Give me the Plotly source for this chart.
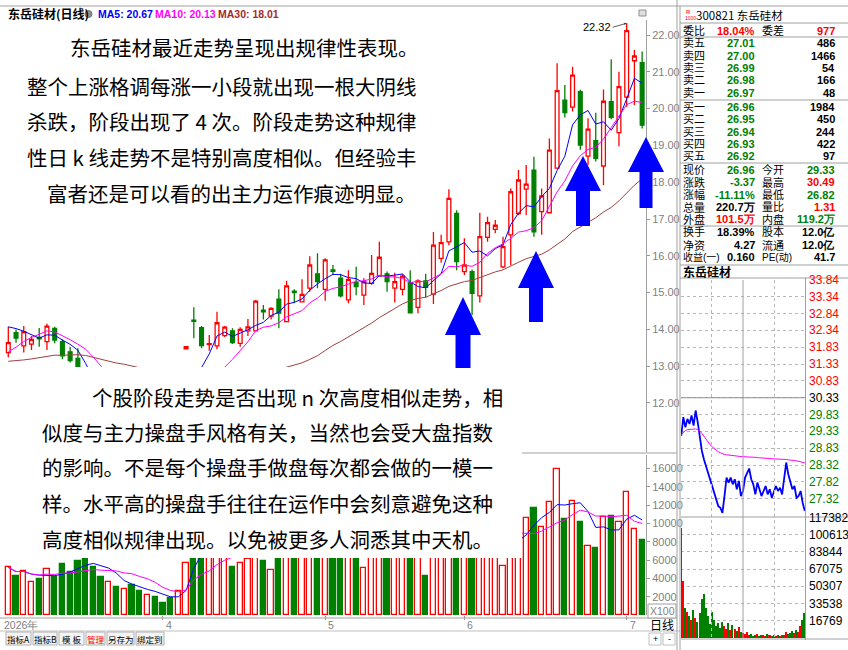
import plotly.graph_objects as go
import pandas as pd

W, H = 848, 650
def px(x): return x / W
def py(y): return 1 - y / H

# ---------------- daily data (index = trading day) ----------------
opens = [13.37, 13.91, 13.55, 13.60, 13.78, 13.67, 14.03, 13.67, 13.39, 13.21,
         12.90, 12.25, 11.65, 11.50, 11.70, 11.55, 11.65, 11.60, 11.55, 11.55,
         11.60, 11.85, 11.60, 13.47, 14.25, 14.05, 13.59, 13.55, 13.83, 13.96,
         13.62, 13.96, 13.96, 14.52, 14.36, 14.82, 14.21, 15.04, 14.75, 15.12,
         15.51, 15.09, 15.62, 15.39, 14.80, 15.27, 14.93, 15.25, 15.45, 15.51,
         15.12, 15.09, 15.27, 14.60, 15.32, 14.96, 15.93, 16.38, 17.15, 15.57,
         15.57, 14.91, 16.50, 16.72, 15.70, 16.57, 17.15, 17.81, 18.33, 17.20,
         17.17, 18.38, 20.23, 20.04, 20.46, 18.71, 19.13, 18.44, 20.19, 19.35,
         20.31, 21.30, 21.25]
highs = [14.07, 14.00, 14.09, 13.82, 14.04, 14.15, 14.07, 13.73, 13.53, 13.49,
         12.95, 12.40, 11.90, 11.80, 11.85, 11.75, 11.80, 11.70, 11.70, 11.65,
         11.65, 11.95, 11.90, 13.53, 14.60, 14.09, 13.85, 14.48, 14.09, 14.03,
         14.06, 14.28, 14.80, 14.66, 14.60, 15.09, 15.32, 15.09, 15.36, 15.99,
         16.07, 15.93, 15.75, 15.51, 15.61, 15.70, 15.39, 16.02, 16.38, 15.57,
         15.54, 15.51, 15.61, 15.36, 15.51, 16.65, 16.57, 17.81, 17.24, 16.48,
         15.63, 17.17, 17.06, 16.97, 16.52, 17.83, 18.33, 18.47, 18.69, 17.83,
         19.19, 21.23, 20.64, 21.14, 20.51, 19.74, 19.89, 20.52, 21.34, 21.00,
         22.32, 21.59, 21.55]
lows = [13.24, 13.64, 13.37, 13.44, 13.53, 13.44, 13.62, 13.19, 13.10, 12.92,
        12.20, 11.50, 11.30, 11.35, 11.40, 11.40, 11.50, 11.45, 11.45, 11.40,
        11.45, 11.60, 11.50, 13.47, 13.76, 13.49, 13.42, 13.46, 13.79, 13.60,
        13.53, 13.82, 13.94, 14.27, 14.27, 14.03, 14.21, 14.71, 14.73, 15.02,
        15.12, 14.78, 15.48, 14.87, 14.71, 14.93, 14.66, 15.21, 15.43, 15.02,
        14.73, 14.93, 14.44, 14.44, 14.87, 14.69, 15.81, 16.29, 15.61, 15.48,
        14.39, 14.73, 16.38, 16.61, 15.66, 15.75, 17.11, 17.11, 16.52, 16.57,
        17.15, 18.38, 19.76, 19.92, 18.88, 18.47, 18.56, 17.92, 19.71, 18.98,
        20.05, 20.10, 19.46]
closes = [13.64, 13.76, 13.94, 13.73, 13.74, 14.09, 13.71, 13.28, 13.15, 12.94,
          12.30, 11.60, 11.45, 11.70, 11.55, 11.65, 11.60, 11.55, 11.55, 11.50,
          11.57, 11.75, 11.75, 13.53, 14.22, 13.56, 13.61, 14.18, 14.06, 13.64,
          14.00, 14.07, 14.77, 14.48, 14.57, 14.44, 15.18, 15.00, 14.95, 15.75,
          15.30, 15.89, 15.58, 14.91, 15.36, 15.16, 15.30, 15.52, 15.96, 15.30,
          15.30, 15.45, 14.45, 15.32, 15.14, 16.29, 16.36, 17.56, 15.84, 15.75,
          14.98, 16.52, 16.90, 16.83, 16.25, 17.74, 18.06, 17.95, 16.65, 17.63,
          18.87, 20.49, 19.89, 20.91, 19.01, 19.44, 18.65, 20.20, 19.76, 20.60,
          22.12, 21.43, 19.55]
# closes before the visible window (only used for the moving averages)
prior_closes = [13.4, 13.2, 12.9, 12.6, 12.8, 13.1, 13.3, 13.0, 12.7, 12.9,
                13.2, 13.4, 13.1, 12.8, 12.6, 12.9, 13.0, 13.2, 13.1, 12.9,
                12.5, 12.4, 12.6, 12.9, 13.15, 14.0, 14.3, 14.25, 14.16]
volumes = [5200, 4300, 4800, 3600, 3900, 5000, 4200, 5600, 4700, 5900,
           6800, 5200, 4100, 3600, 3100, 2800, 3300, 2600, 2200, 2000,
           1300, 1825, 2623, 5650, 14000, 9000, 7000, 9500, 7000, 5280,
           5650, 6120, 11000, 5900, 4920, 9000, 12000, 7500, 7000, 11000,
           9000, 10000, 6500, 7500, 8000, 6500, 5100, 7000, 10000, 7000,
           6500, 6800, 8000, 7000, 4300, 10000, 7500, 11000, 12000, 7000,
           8000, 11000, 7500, 6500, 5390, 9500, 11700, 10640, 11730, 9650,
           12320, 15960, 10460, 12460, 10130, 7540, 7290, 10740, 10820, 10130,
           13410, 9400, 8200]
month_starts = [20, 41, 59, 80]
month_labels = ["4", "5", "6", "7"]
price_ticks = [12, 13, 14, 15, 16, 17, 18, 19, 20, 21, 22]
vol_ticks = [2000, 4000, 6000, 8000, 10000, 12000, 14000, 16000]

# ---------------- intraday data (minute index) ----------------
minutes = list(range(0, 241, 4))
intraday_price = [29.20, 29.75, 29.45, 29.70, 29.55, 29.80, 29.50, 29.95, 29.60, 29.20,
                  28.75, 28.50, 28.30, 28.05, 27.90, 27.70, 27.45, 27.30, 27.10, 27.05,
                  26.90, 27.40, 27.95, 27.80, 27.95, 27.75, 27.90, 27.60, 27.85, 27.40,
                  27.55, 27.95, 28.10, 28.22, 27.90, 27.75, 27.45, 27.80, 27.60, 27.40,
                  27.55, 27.70, 27.45, 27.60, 27.35, 27.50, 27.70, 27.55, 27.65, 27.45,
                  27.90, 28.40, 28.05, 27.85, 27.60, 27.70, 27.35, 27.40, 27.55, 27.20,
                  26.96]
intraday_avg = [29.23, 29.30, 29.35, 29.38, 29.39, 29.40, 29.40, 29.40, 29.38, 29.34,
                29.27, 29.18, 29.08, 29.00, 28.93, 28.87, 28.81, 28.76, 28.72, 28.69,
                28.66, 28.64, 28.63, 28.62, 28.61, 28.60, 28.60, 28.59, 28.58, 28.57,
                28.57, 28.57, 28.57, 28.57, 28.56, 28.56, 28.55, 28.55, 28.54, 28.54,
                28.53, 28.53, 28.52, 28.52, 28.51, 28.51, 28.50, 28.50, 28.49, 28.49,
                28.49, 28.49, 28.48, 28.48, 28.47, 28.46, 28.45, 28.44, 28.43, 28.41,
                28.39]
intraday_vol = [108000, 56000, 30000, 26000, 22000, 18000, 28000, 20000, 16000, 25000,
                38000, 43000, 30000, 22000, 14000, 26000, 18000, 12000, 15000, 10000,
                16000, 12000, 9000, 15000, 8000, 13000, 9000, 7000, 11000, 6000,
                5000, 4000, 6000, 3000, 4000, 2500, 3000, 4500, 2000, 3500,
                3000, 2500, 4000, 3000, 2000, 3500, 2500, 3000, 2000, 3000,
                3500, 6000, 4000, 5000, 7000, 5500, 8000, 6000, 12000, 18000,
                25000]
prev_close = 30.33
intraday_price_labels = ["33.84", "33.34", "32.84", "32.34", "31.83", "31.33", "30.83",
                         "30.33", "29.83", "29.33", "28.83", "28.32", "27.82", "27.32"]
intraday_vol_labels = [117382, 100613, 83844, 67075, 50307, 33538, 16769]

# ---------------- quote panel texts ----------------
book_rows = [("卖五", "27.01", "486"), ("卖四", "27.00", "1466"), ("卖三", "26.99", "54"),
             ("卖二", "26.98", "166"), ("卖一", "26.97", "48"),
             ("买一", "26.96", "1984"), ("买二", "26.95", "450"), ("买三", "26.94", "244"),
             ("买四", "26.93", "422"), ("买五", "26.92", "97")]
quote_rows = [("现价", "26.96", "#008000", "今开", "29.33", "#008000"),
              ("涨跌", "-3.37", "#008000", "最高", "30.49", "#FF0000"),
              ("涨幅", "-11.11%", "#008000", "最低", "26.82", "#008000"),
              ("总量", "220.7万", "#000000", "量比", "1.31", "#FF0000"),
              ("外盘", "101.5万", "#FF0000", "内盘", "119.2万", "#008000"),
              ("换手", "18.39%", "#000000", "股本", "12.0亿", "#000000"),
              ("净资", "4.27", "#000000", "流通", "12.0亿", "#000000"),
              ("收益(一)", "0.160", "#000000", "PE(动)", "41.7", "#000000")]

text_top = ["东岳硅材最近走势呈现出规律性表现。",
            "整个上涨格调每涨一小段就出现一根大阴线",
            "杀跌，阶段出现了 4 次。阶段走势这种规律",
            "性日 k 线走势不是特别高度相似。但经验丰",
            "富者还是可以看的出主力运作痕迹明显。"]
text_bottom = ["个股阶段走势是否出现 n 次高度相似走势，相",
               "似度与主力操盘手风格有关，当然也会受大盘指数",
               "的影响。不是每个操盘手做盘每次都会做的一模一",
               "样。水平高的操盘手往往在运作中会刻意避免这种",
               "高度相似规律出现。以免被更多人洞悉其中天机。"]

# ---------------- derived series ----------------
idx = list(range(len(closes)))
all_c = pd.Series(prior_closes + closes, dtype=float)
n0 = len(prior_closes)
ma5 = all_c.rolling(5).mean().iloc[n0:].tolist()
ma10 = all_c.rolling(10).mean().iloc[n0:].tolist()
ma30 = all_c.rolling(30).mean().iloc[n0:].tolist()
vs = pd.Series(volumes, dtype=float)
mav5 = vs.rolling(5, min_periods=1).mean().tolist()
mav10 = vs.rolling(10, min_periods=1).mean().tolist()
up = [c >= o for o, c in zip(opens, closes)]
vol_fill = ["#FFFFFF" if u else "#008000" for u in up]
vol_line = ["#FF0000" if u else "#008000" for u in up]

iv_col = []
for k, p in enumerate(intraday_price):
    prev = intraday_price[k - 1] if k > 0 else prev_close
    iv_col.append("#FF0000" if p >= prev else "#008000")

RED, GREEN, BLUE, MAG, BROWN = "#FF0000", "#008000", "#0000FF", "#FF00FF", "#A04040"
GRAYTXT = "#7F7F7F"
NUMFONT = "Liberation Sans, Arial, sans-serif"
CJK = "Noto Sans CJK SC, sans-serif"
CJK_TIGHT = "Liberation Sans, Noto Sans CJK SC, sans-serif"

fig = go.Figure()

# main candles
fig.add_trace(go.Candlestick(
    x=idx, open=opens, high=highs, low=lows, close=closes,
    increasing=dict(line=dict(color=RED, width=1.3), fillcolor="#FFFFFF"),
    decreasing=dict(line=dict(color=GREEN, width=1.3), fillcolor=GREEN),
    whiskerwidth=0, hoverinfo="skip", showlegend=False, xaxis="x", yaxis="y"))
for s, c in [(ma5, BLUE), (ma10, MAG), (ma30, BROWN)]:
    fig.add_trace(go.Scatter(x=idx, y=s, mode="lines", line=dict(color=c, width=1),
                             hoverinfo="skip", showlegend=False, xaxis="x", yaxis="y"))

# volume
fig.add_trace(go.Bar(x=idx, y=volumes, width=0.68,
                     marker=dict(color=vol_fill, line=dict(color=vol_line, width=1.3)),
                     hoverinfo="skip", showlegend=False, xaxis="x2", yaxis="y2"))
for s, c in [(mav5, BLUE), (mav10, MAG)]:
    fig.add_trace(go.Scatter(x=idx, y=s, mode="lines", line=dict(color=c, width=1),
                             hoverinfo="skip", showlegend=False, xaxis="x2", yaxis="y2"))

# intraday
fig.add_trace(go.Scatter(x=minutes, y=intraday_price, mode="lines", line=dict(color=BLUE, width=1.8),
                         hoverinfo="skip", showlegend=False, xaxis="x3", yaxis="y3"))
fig.add_trace(go.Scatter(x=minutes, y=intraday_avg, mode="lines", line=dict(color=MAG, width=1),
                         hoverinfo="skip", showlegend=False, xaxis="x3", yaxis="y3"))
fig.add_trace(go.Bar(x=minutes, y=intraday_vol, width=3, marker=dict(color=iv_col, line=dict(width=0)),
                     hoverinfo="skip", showlegend=False, xaxis="x4", yaxis="y4"))

xr = [-1.074, 82.5]
ip_lo, ip_hi = 26.82, 33.84
fig.update_layout(
    width=W, height=H, margin=dict(l=0, r=0, t=0, b=0),
    paper_bgcolor="white", plot_bgcolor="white", showlegend=False, boxgap=0.3, bargap=0,
    xaxis=dict(domain=[0, px(646)], range=xr, visible=False, rangeslider=dict(visible=False)),
    yaxis=dict(domain=[py(452), py(20)], range=[10.668, 22.408], side="right", anchor="x",
               tickvals=price_ticks, ticktext=["%.2f" % v for v in price_ticks],
               ticks="outside", ticklen=3, tickcolor="#999999", showline=True, linecolor="#A0A0A0",
               showgrid=False, zeroline=False, tickfont=dict(family=NUMFONT, size=11, color=GRAYTXT)),
    xaxis2=dict(domain=[0, px(646)], range=xr, anchor="y2", tickvals=month_starts, ticktext=["" for _ in month_starts],
                ticks="outside", ticklen=4, tickcolor="#999999", showline=False, showgrid=False, zeroline=False,
                rangeslider=dict(visible=False)),
    yaxis2=dict(domain=[py(615), py(455)], range=[0, 17490], side="right", anchor="x2",
                tickvals=vol_ticks, ticktext=[str(v) for v in vol_ticks], ticks="outside", ticklen=3,
                tickcolor="#999999", showline=True, linecolor="#A0A0A0", showgrid=False, zeroline=False,
                tickfont=dict(family=NUMFONT, size=11, color=GRAYTXT)),
    xaxis3=dict(domain=[px(681), px(805)], range=[-0.5, 240.5], anchor="y3", visible=False),
    yaxis3=dict(domain=[py(515.5), py(280)], range=[ip_lo, ip_hi], anchor="x3",
                tickvals=[float(v) for v in intraday_price_labels], showticklabels=False, ticks="",
                showgrid=True, gridcolor="#B8B8B8", griddash="dot", gridwidth=1, zeroline=False, showline=False),
    xaxis4=dict(domain=[px(681), px(805)], range=[-0.5, 240.5], anchor="y4", visible=False),
    yaxis4=dict(domain=[py(638), py(517.5)], range=[0, 117382], anchor="x4",
                tickvals=intraday_vol_labels, showticklabels=False, ticks="",
                showgrid=True, gridcolor="#B8B8B8", griddash="dot", gridwidth=1, zeroline=False, showline=False),
)

shapes = []
ann = []

def hline(x0, x1, y, color="#A0A0A0", width=1, dash=None):
    shapes.append(dict(type="line", xref="paper", yref="paper", x0=px(x0), x1=px(x1), y0=py(y), y1=py(y),
                       line=dict(color=color, width=width, dash=dash), layer="above"))

def vline(x, y0, y1, color="#A0A0A0", width=1, dash=None):
    shapes.append(dict(type="line", xref="paper", yref="paper", x0=px(x), x1=px(x), y0=py(y0), y1=py(y1),
                       line=dict(color=color, width=width, dash=dash), layer="above"))

def rect(x0, y0, x1, y1, fill="white", line=None, lw=0):
    shapes.append(dict(type="rect", xref="paper", yref="paper", x0=px(x0), x1=px(x1), y0=py(y1), y1=py(y0),
                       fillcolor=fill, line=dict(color=line or fill, width=lw), layer="above"))

def text(x, y, s, size=12, color="#000000", family=CJK, xanchor="left", bold=False):
    if bold:
        s = "<b>" + s + "</b>"
    ann.append(dict(xref="paper", yref="paper", x=px(x), y=py(y), text=s, showarrow=False,
                    xanchor=xanchor, yanchor="middle", font=dict(size=size, color=color, family=family)))

# panel separator (drawn first so the pasted text box hides it)
hline(0, 677, 453, "#A0A0A0")

# white text boxes covering the chart
rect(0, 24, 432, 214)
rect(0, 367, 522, 558)

# frame lines
hline(0, 848, 6, "#A0A0A0")
hline(0, 677, 618, "#A0A0A0")
hline(0, 680, 631, "#C0C0C0")
vline(677, 0, 650, "#A0A0A0")
vline(680, 6, 650, "#A0A0A0")

# blue arrows
for tx, ty, hw, by, sw, bot in [(463, 297, 18, 335, 7.5, 368), (536, 251, 18, 288, 7, 322),
                                (583, 156, 18, 191, 7, 226), (646, 137, 18, 172, 6.5, 208)]:
    pts = [(tx, ty), (tx + hw, by), (tx + sw, by), (tx + sw, bot), (tx - sw, bot), (tx - sw, by), (tx - hw, by)]
    path = "M " + " L ".join("%.5f,%.5f" % (px(a), py(b)) for a, b in pts) + " Z"
    shapes.append(dict(type="path", xref="paper", yref="paper", path=path, fillcolor="#0000FF",
                       line=dict(color="#0000FF", width=0), layer="above"))

# header
text(6, 14, "东岳硅材(日线)", 12, "#000000", bold=True)
shapes.append(dict(type="circle", xref="paper", yref="paper", x0=px(85), x1=px(92), y0=py(17.5), y1=py(10.5),
                   fillcolor="#909090", line=dict(color="#707070", width=1), layer="above"))
text(96, 14, "MA5: 20.67", 10.5, BLUE, NUMFONT, bold=True)
text(153, 14, "MA10: 20.13", 10.5, MAG, NUMFONT, bold=True)
text(216, 14, "MA30: 18.01", 10.5, "#A52A2A", NUMFONT, bold=True)
rect(639, 10, 646, 16, fill="#E0E0E0", line="#909090", lw=1)

# high marker
ann.append(dict(xref="x", yref="y", x=80, y=22.32, text="22.32", showarrow=True, arrowhead=2, arrowsize=0.6,
                arrowwidth=0.8, arrowcolor="#333333", ax=-14, ay=4, xanchor="right",
                font=dict(size=11, color="#000000", family=NUMFONT)))

# text boxes
for (x, y), s in zip([(68, 47), (25, 86), (25, 121), (25, 157), (45, 193)], text_top):
    text(x, y, s, 20.5, "#000000")
for (x, y), s in zip([(90, 397), (40, 432), (40, 467), (40, 503), (40, 539)], text_bottom):
    text(x, y, s, 20.5, "#000000")

# date axis labels
text(2, 625, "2026年", 10.5, GRAYTXT, NUMFONT)
for m, lab in zip(month_starts, month_labels):
    ann.append(dict(xref="x2", yref="paper", x=m, y=py(625), text=lab, showarrow=False, xanchor="left",
                    xshift=1, yanchor="middle", font=dict(size=10.5, color=GRAYTXT, family=NUMFONT)))
rect(648, 604, 676, 618, fill="white", line="#A0A0A0", lw=1)
text(662, 611, "X100", 10.5, GRAYTXT, NUMFONT, "center")
text(662, 624, "日线", 12, "#000000", xanchor="center")
for bx, lab in [(655, "+"), (669, "-")]:
    rect(bx - 6, 633, bx + 6, 645, fill="white", line="#C0C0C0", lw=1)
    text(bx, 639, lab, 9, "#000000", NUMFONT, "center")

# toolbar
for x0, x1, lab, col in [(6, 31, "指标A", "#000000"), (33, 57, "指标B", "#000000"), (59, 84, "模 板", "#000000"),
                         (86, 105, "管理", "#FF0000"), (107, 134, "另存为", "#000000"), (136, 164, "绑定到", "#000000")]:
    rect(x0, 632, x1, 645, fill="#F4F4F4", line="#B0B0B0", lw=1)
    text((x0 + x1) / 2, 638.5, lab, 8.5, col, xanchor="center")

# quote panel
hline(680, 848, 23)
hline(680, 848, 37)
hline(680, 848, 100)
hline(680, 848, 163)
hline(680, 848, 226)
hline(680, 848, 265)
hline(680, 848, 278)
text(684, 12, "R", 6, RED, NUMFONT)
text(683, 18, "1000", 5, RED, NUMFONT)
text(694, 14.5, "300821 东岳硅材", 11.5, "#000000")
LAB = 11
NUM = 11
text(681, 30.5, "委比", LAB, "#000000", CJK_TIGHT)
text(757, 30.5, "18.04%", NUM, RED, NUMFONT, "right", True)
text(760, 30.5, "委差", LAB, "#000000", CJK_TIGHT)
text(837, 30.5, "977", NUM, RED, NUMFONT, "right", True)
book_y = [43.5, 55.8, 68.2, 80.5, 93, 106.5, 119, 131.5, 144, 156]
for yy, (lab, pr, vol) in zip(book_y, book_rows):
    text(681, yy, lab, LAB, "#000000", CJK_TIGHT)
    text(757, yy, pr, NUM, GREEN, NUMFONT, "right", True)
    text(837, yy, vol, NUM, "#000000", NUMFONT, "right", True)
quote_y = [170, 182.3, 194.6, 207, 219.4, 232, 245, 257.5]
for yy, (l1, v1, c1, l2, v2, c2) in zip(quote_y, quote_rows):
    text(681, yy, l1, 10 if len(l1) > 2 else LAB, "#000000", CJK_TIGHT)
    text(757, yy, v1, NUM, c1, NUMFONT, "right", True)
    text(760, yy, l2, 10 if len(l2) > 2 else LAB, "#000000", CJK_TIGHT)
    text(837, yy, v2, NUM, c2, NUMFONT, "right", True)
text(681, 271, "东岳硅材", 12, "#000000", bold=True)

# intraday frame / grid
vline(805.5, 278, 640, "#A0A0A0")
vline(711.5, 280, 638, "#B8B8B8", 1, "dot")
vline(774.5, 280, 638, "#B8B8B8", 1, "dot")
vline(743, 280, 638, "#A0A0A0")
hline(681, 848, 517, "#A0A0A0")
hline(681, 848, 639, "#A0A0A0")
shapes.append(dict(type="line", xref="x3", yref="y3", x0=-0.5, x1=240.5, y0=prev_close, y1=prev_close,
                   line=dict(color="#909090", width=1), layer="above"))
for lab in intraday_price_labels:
    v = float(lab)
    col = RED if v > prev_close + 0.001 else ("#000000" if abs(v - prev_close) < 0.001 else GREEN)
    ann.append(dict(xref="paper", yref="y3", x=px(807), y=v, text=lab, showarrow=False, xanchor="left",
                    yanchor="middle", font=dict(size=12, color=col, family=NUMFONT)))
for v in intraday_vol_labels:
    ann.append(dict(xref="paper", yref="y4", x=px(807), y=v, text=str(v), showarrow=False, xanchor="left",
                    yanchor="middle", font=dict(size=12, color="#000000", family=NUMFONT)))

fig.update_layout(shapes=shapes, annotations=ann)
fig.write_html("out.html")
